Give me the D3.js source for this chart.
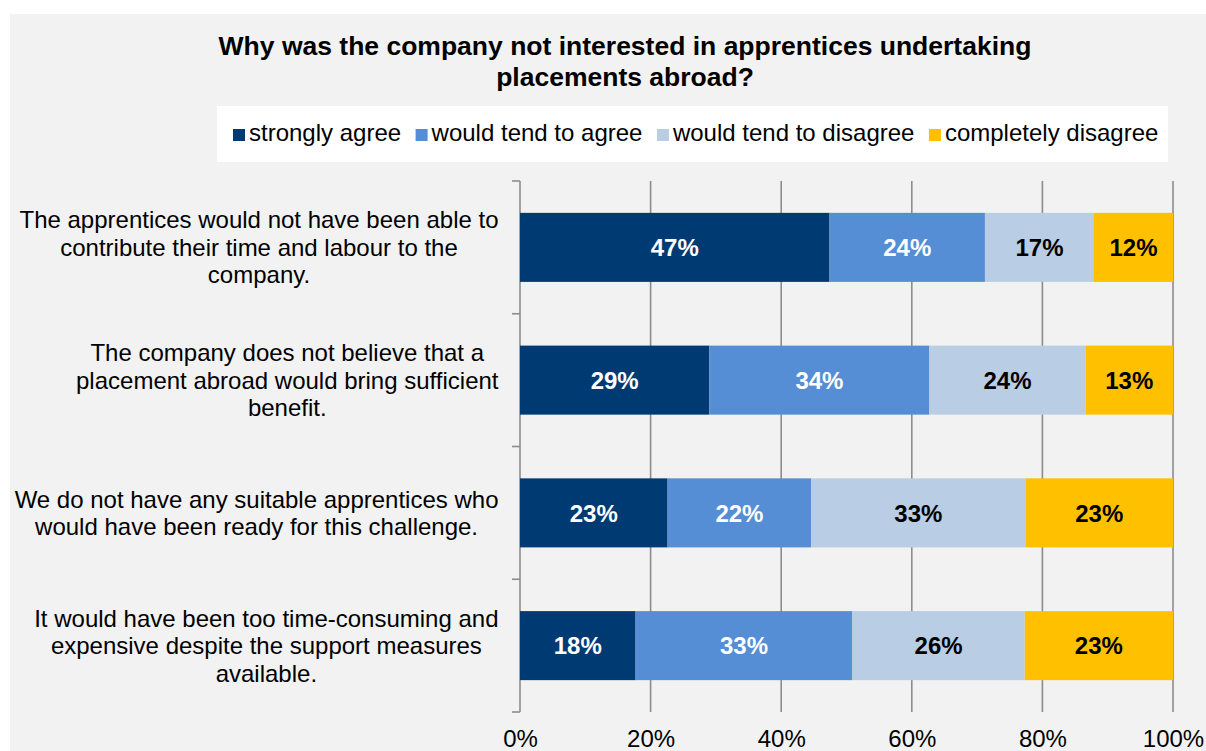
<!DOCTYPE html>
<html>
<head>
<meta charset="utf-8">
<script src="https://cdn.jsdelivr.net/npm/d3@7"></script>
<style>
  html, body { margin: 0; padding: 0; background: #ffffff; }
  svg { display: block; font-family: "Liberation Sans", Arial, sans-serif; }
</style>
</head>
<body>
<svg id="chart" width="1206" height="751"></svg>
<script>
// Survey statements (line breaks mark label wrapping)
const categories = [
  "The apprentices would not have been able to\ncontribute their time and labour to the\ncompany.",
  "The company does not believe that a\nplacement abroad would bring sufficient\nbenefit.",
  "We do not have any suitable apprentices who\nwould have been ready for this challenge.",
  "It would have been too time-consuming and\nexpensive despite the support measures\navailable."
];

// Share of respondents per answer, in percent
const stronglyAgree      = [47.4, 29.0, 22.6, 17.7];
const tendToAgree        = [23.8, 33.7, 22.0, 33.2];
const tendToDisagree     = [16.7, 23.9, 32.8, 26.4];
const completelyDisagree = [12.1, 13.4, 22.6, 22.7];

const seriesNames = ["strongly agree", "would tend to agree", "would tend to disagree", "completely disagree"];
const seriesColors = ["#003a73", "#558ed5", "#b9cde5", "#ffc000"];
const labelColors = ["#ffffff", "#ffffff", "#000000", "#000000"];

const xTicks = [0, 20, 40, 60, 80, 100];
const titleLines = ["Why was the company not interested in apprentices undertaking", "placements abroad?"];

// Build rows for d3.stack
const seriesValues = [stronglyAgree, tendToAgree, tendToDisagree, completelyDisagree];
const table = categories.map((c, i) => {
  const row = { category: c };
  seriesNames.forEach((s, k) => { row[s] = seriesValues[k][i]; });
  return row;
});

const svg = d3.select("#chart");
const W = 1206, H = 751;

// Chart area background
svg.append("rect").attr("x", 10).attr("y", 14).attr("width", W - 10).attr("height", H - 14).attr("fill", "#f2f2f2");

// Title
const title = svg.append("text")
  .attr("text-anchor", "middle")
  .attr("font-size", "26.5px")
  .attr("font-weight", "bold")
  .attr("fill", "#000");
titleLines.forEach((t, i) => {
  title.append("tspan").attr("x", 625).attr("y", 55 + i * 30.5).text(t);
});

// Legend
const legendBox = { x: 217, y: 106, w: 951, h: 56 };
svg.append("rect").attr("x", legendBox.x).attr("y", legendBox.y)
  .attr("width", legendBox.w).attr("height", legendBox.h).attr("fill", "#ffffff");
const legend = svg.append("g");
const items = legend.selectAll("g").data(seriesNames).join("g");
items.append("rect").attr("width", 12).attr("height", 12).attr("y", 129)
  .attr("fill", (d, i) => seriesColors[i]);
items.append("text").attr("y", 141).attr("font-size", "24px").attr("fill", "#000").text(d => d);
// place items sequentially across the legend box
let widths = [];
items.each(function () { widths.push(d3.select(this).select("text").node().getComputedTextLength()); });
const swGap = 4, itemGap = 14.5;
let cx = 233;
items.each(function (d, i) {
  const g = d3.select(this);
  g.select("rect").attr("x", cx);
  g.select("text").attr("x", cx + 12 + swGap);
  cx += 12 + swGap + widths[i] + itemGap;
});

// Scales
const x = d3.scaleLinear().domain([0, 100]).range([520, 1173]);
const y = d3.scaleBand().domain(categories).range([181, 712]).paddingInner(0.48).paddingOuter(0.24);

// Vertical gridlines
const grid = svg.append("g");
grid.selectAll("line").data(xTicks.filter(d => d > 0)).join("line")
  .attr("x1", d => x(d)).attr("x2", d => x(d))
  .attr("y1", 181).attr("y2", 712)
  .attr("stroke", "#8c8c8c").attr("stroke-width", 1.6);

// Category axis line with ticks at band boundaries
const step = y.step();
const bounds = d3.range(categories.length + 1).map(i => 181 + i * step);
svg.append("line").attr("x1", x(0)).attr("x2", x(0)).attr("y1", 181).attr("y2", 712)
  .attr("stroke", "#8c8c8c").attr("stroke-width", 1.6);
svg.append("g").selectAll("line").data(bounds).join("line")
  .attr("x1", x(0) - 8).attr("x2", x(0))
  .attr("y1", d => d).attr("y2", d => d)
  .attr("stroke", "#8c8c8c").attr("stroke-width", 1.6);

// Stacked bars
const stacked = d3.stack().keys(seriesNames)(table);
const layers = svg.append("g").selectAll("g").data(stacked).join("g")
  .attr("fill", (d, i) => seriesColors[i]);
layers.selectAll("rect").data(d => d).join("rect")
  .attr("x", d => x(d[0]))
  .attr("y", d => y(d.data.category))
  .attr("width", d => x(d[1]) - x(d[0]))
  .attr("height", y.bandwidth());

// Value labels
const labels = svg.append("g").selectAll("g").data(stacked).join("g")
  .attr("fill", (d, i) => labelColors[i]);
labels.selectAll("text").data(d => d).join("text")
  .attr("x", d => x((d[0] + d[1]) / 2))
  .attr("y", d => y(d.data.category) + y.bandwidth() / 2)
  .attr("dy", "0.36em")
  .attr("text-anchor", "middle")
  .attr("font-size", "24px")
  .attr("font-weight", "bold")
  .text(d => Math.round(d[1] - d[0]) + "%");

// Category labels: block right-aligned to the axis, lines centered in the block
const catG = svg.append("g");
const lineH = 27.6;
categories.forEach(c => {
  const lines = c.split("\n");
  const yc = y(c) + y.bandwidth() / 2;
  const t = catG.append("text").attr("text-anchor", "middle").attr("font-size", "24px").attr("fill", "#000");
  const spans = lines.map((ln, i) => t.append("tspan")
    .attr("y", yc + (i - (lines.length - 1) / 2) * lineH + 8.5).text(ln));
  const maxW = d3.max(spans, s => s.node().getComputedTextLength());
  const centerX = 498.5 - maxW / 2;
  spans.forEach(s => s.attr("x", centerX));
});

// Value axis labels
const xAxis = d3.axisBottom(x).tickValues(xTicks).tickSize(0).tickPadding(0).tickFormat(d => d + "%");
const xg = svg.append("g").attr("transform", "translate(0,712)").call(xAxis);
xg.select(".domain").remove();
xg.selectAll("text")
  .attr("y", 35)
  .attr("dy", null)
  .attr("font-size", "24px")
  .attr("font-family", "\"Liberation Sans\", Arial, sans-serif")
  .attr("fill", "#000");
</script>
</body>
</html>
